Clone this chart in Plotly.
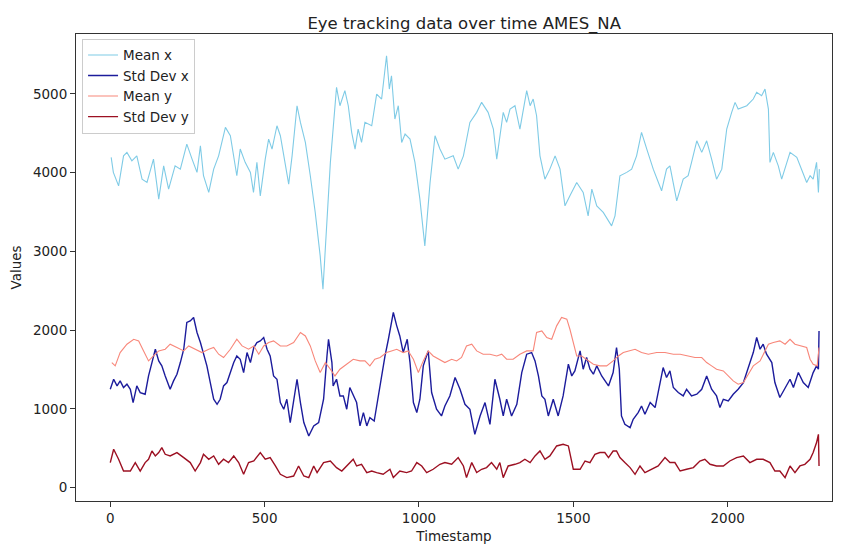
import plotly.graph_objects as go

# ---- data ----
ts_mean_x = [3, 10, 27, 43, 54, 70, 86, 103, 119, 140, 157, 173, 189, 210, 227, 248, 265, 281, 292, 302,
             319, 335, 351, 373, 389, 410, 421, 437, 454, 464, 475, 486, 502, 513, 524, 540, 551, 562, 578,
             589, 605, 616, 632, 648, 664, 680, 689, 713, 733, 744, 760, 771, 782, 793, 803, 814, 825, 847,
             863, 879, 895, 904, 911, 922, 933, 944, 955, 971, 987, 1003, 1019, 1036, 1052, 1068, 1084, 1111,
             1127, 1144, 1165, 1187, 1203, 1224, 1241, 1252, 1262, 1273, 1284, 1295, 1311, 1327, 1349, 1360,
             1370, 1381, 1392, 1408, 1424, 1441, 1457, 1473, 1489, 1511, 1532, 1548, 1560, 1576, 1597, 1624,
             1635, 1651, 1673, 1689, 1705, 1721, 1738, 1759, 1786, 1802, 1813, 1835, 1856, 1872, 1883, 1900,
             1916, 1932, 1948, 1964, 1981, 1997, 2013, 2024, 2034, 2062, 2083, 2094, 2110, 2121, 2132, 2137,
             2148, 2164, 2175, 2202, 2224, 2240, 2256, 2267, 2277, 2288, 2294, 2297]
mean_x = [4193, 4003, 3832, 4213, 4257, 4150, 4213, 3917, 3875, 4171, 3663, 4086, 3790, 4086, 4044, 4362,
          4171, 4003, 4341, 3960, 3748, 4044, 4213, 4574, 4468, 3960, 4299, 4130, 4003, 3748, 4130, 3705,
          4171, 4426, 4299, 4595, 4468, 4213, 3854, 4213, 4849, 4637, 4383, 3960, 3494, 2943, 2520, 4130,
          5083, 4849, 5040, 4849, 4511, 4299, 4553, 4383, 4638, 4595, 4997, 4934, 5484, 5061, 5230, 4680,
          4849, 4383, 4489, 4426, 4130, 3663, 3070, 3875, 4468, 4299, 4171, 4213, 4044, 4213, 4638, 4765,
          4892, 4765, 4553, 4171, 4468, 4765, 4638, 4807, 4849, 4553, 5040, 4849, 4934, 4722, 4213, 3917,
          4044, 4213, 4044, 3578, 3705, 3875, 3748, 3451, 3790, 3578, 3494, 3324, 3451, 3960, 4003, 4044,
          4213, 4511, 4299, 4044, 3769, 4044, 4086, 3642, 3917, 3960, 4130, 4404, 4257, 4404, 4171, 3917,
          4044, 4553, 4765, 4892, 4807, 4849, 4934, 5019, 4976, 5061, 4807, 4130, 4257, 4086, 3917, 4257,
          4193, 4044, 3875, 3960, 3917, 4130, 3748, 4044]

ts_std_x = [0, 11, 22, 32, 43, 54, 65, 74, 86, 97, 113, 124, 135, 146, 157, 167, 178, 194, 205, 216, 227,
            238, 248, 259, 270, 281, 292, 302, 313, 324, 335, 346, 356, 367, 378, 389, 400, 410, 421, 432,
            443, 454, 465, 475, 486, 497, 508, 518, 529, 540, 551, 562, 572, 583, 594, 605, 616, 627, 643,
            659, 675, 691, 702, 707, 718, 722, 733, 744, 755, 766, 776, 787, 798, 809, 820, 831, 841, 855,
            868, 879, 890, 901, 912, 917, 928, 938, 949, 962, 971, 982, 993, 1003, 1014, 1030, 1041, 1057,
            1073, 1084, 1100, 1117, 1133, 1149, 1165, 1181, 1198, 1214, 1230, 1246, 1262, 1273, 1284, 1300,
            1317, 1333, 1349, 1365, 1376, 1387, 1398, 1408, 1419, 1435, 1451, 1467, 1484, 1495, 1505, 1522,
            1532, 1543, 1554, 1565, 1576, 1592, 1614, 1629, 1640, 1649, 1656, 1667, 1684, 1694, 1710, 1721,
            1732, 1749, 1765, 1775, 1791, 1802, 1813, 1824, 1840, 1856, 1867, 1883, 1900, 1916, 1932, 1948,
            1964, 1975, 1986, 2002, 2018, 2034, 2051, 2067, 2083, 2094, 2105, 2115, 2126, 2143, 2153, 2169,
            2186, 2202, 2213, 2229, 2245, 2261, 2277, 2288, 2294, 2296]
std_x = [1249, 1376, 1291, 1355, 1271, 1313, 1249, 1080, 1291, 1207, 1186, 1418, 1588, 1757, 1609, 1546,
         1418, 1249, 1355, 1440, 1588, 1757, 2097, 2117, 2160, 1970, 1842, 1715, 1546, 1334, 1122, 1058,
         1122, 1291, 1334, 1461, 1588, 1672, 1630, 1461, 1715, 1588, 1779, 1842, 1863, 1906, 1757, 1672,
         1418, 1376, 1080, 995, 1122, 826, 1122, 1376, 1080, 826, 656, 783, 826, 1122, 1672, 1884, 1588,
         1291, 1376, 1164, 1164, 995, 1271, 1164, 1080, 783, 953, 783, 889, 846, 1164, 1461, 1672, 1884,
         2117, 2224, 2054, 1926, 1715, 1884, 1588, 1080, 953, 1122, 1546, 1736, 1207, 995, 910, 1037, 1164,
         1398, 1249, 1058, 995, 677, 910, 1080, 804, 1376, 1122, 910, 1122, 910, 1058, 1461, 1694, 1715,
         1609, 1418, 1164, 1122, 910, 1122, 910, 1164, 1567, 1418, 1482, 1736, 1503, 1652, 1503, 1440, 1546,
         1418, 1291, 1461, 1779, 1503, 910, 804, 762, 868, 953, 1037, 931, 1080, 1016, 1207, 1525, 1398,
         1482, 1271, 1207, 1164, 1249, 1164, 1186, 1249, 1418, 1249, 1164, 1016, 1122, 1101, 1186, 1249,
         1334, 1525, 1715, 1906, 1757, 1821, 1694, 1588, 1334, 1144, 1271, 1376, 1271, 1461, 1334, 1271,
         1461, 1546, 1503, 1990]

ts_mean_y = [5, 16, 32, 54, 76, 92, 108, 124, 140, 157, 178, 194, 216, 238, 254, 275, 297, 319, 335, 351,
             367, 389, 410, 427, 448, 465, 481, 497, 513, 529, 551, 572, 594, 616, 632, 648, 664, 680, 697,
             713, 728, 744, 766, 787, 809, 825, 841, 857, 874, 895, 911, 928, 949, 965, 982, 998, 1014, 1030,
             1046, 1063, 1084, 1106, 1122, 1138, 1154, 1171, 1187, 1208, 1230, 1252, 1268, 1284, 1305, 1327,
             1349, 1370, 1381, 1398, 1414, 1430, 1446, 1462, 1479, 1489, 1500, 1511, 1527, 1543, 1565, 1586,
             1608, 1629, 1646, 1662, 1684, 1700, 1721, 1743, 1770, 1797, 1824, 1846, 1872, 1894, 1916, 1932,
             1948, 1964, 1986, 2002, 2018, 2034, 2051, 2067, 2083, 2105, 2121, 2132, 2148, 2169, 2186, 2202,
             2218, 2240, 2256, 2267, 2277, 2290, 2296]
mean_y = [1588, 1546, 1715, 1821, 1884, 1863, 1736, 1609, 1672, 1736, 1757, 1821, 1779, 1736, 1799, 1757,
          1715, 1757, 1779, 1694, 1652, 1757, 1884, 1799, 1757, 1799, 1694, 1799, 1842, 1863, 1799, 1799,
          1842, 1970, 1926, 1799, 1609, 1461, 1588, 1503, 1418, 1503, 1567, 1630, 1609, 1609, 1546, 1630,
          1652, 1715, 1736, 1757, 1715, 1736, 1630, 1461, 1609, 1736, 1672, 1630, 1588, 1630, 1609, 1652,
          1799, 1821, 1736, 1694, 1694, 1672, 1694, 1630, 1630, 1694, 1736, 1736, 1970, 1990, 1906, 1884,
          2054, 2160, 2139, 2011, 1842, 1672, 1672, 1630, 1567, 1546, 1546, 1609, 1672, 1715, 1736, 1757,
          1715, 1694, 1715, 1715, 1694, 1694, 1672, 1652, 1652, 1588, 1546, 1503, 1482, 1418, 1355, 1313,
          1334, 1440, 1546, 1609, 1736, 1821, 1842, 1863, 1821, 1884, 1821, 1799, 1779, 1630, 1567, 1546,
          1779]

ts_std_y = [0, 11, 27, 43, 65, 81, 97, 113, 124, 135, 146, 157, 167, 178, 194, 216, 238, 259, 275, 292,
            302, 319, 335, 351, 367, 383, 400, 416, 432, 448, 465, 486, 502, 518, 535, 551, 572, 594, 610,
            627, 643, 659, 670, 691, 713, 733, 750, 771, 787, 798, 814, 831, 847, 863, 884, 906, 917, 938,
            960, 976, 993, 1009, 1025, 1046, 1068, 1084, 1106, 1127, 1144, 1154, 1171, 1187, 1203, 1219,
            1235, 1252, 1262, 1273, 1289, 1311, 1327, 1343, 1360, 1376, 1392, 1408, 1424, 1446, 1467, 1484,
            1500, 1522, 1538, 1554, 1570, 1586, 1602, 1614, 1629, 1640, 1651, 1667, 1684, 1700, 1716, 1732,
            1754, 1775, 1797, 1813, 1829, 1846, 1867, 1889, 1910, 1926, 1943, 1964, 1986, 2007, 2029, 2051,
            2072, 2094, 2115, 2137, 2153, 2169, 2186, 2202, 2218, 2234, 2250, 2267, 2277, 2288, 2294, 2296]
std_y = [318, 487, 360, 211, 211, 318, 211, 318, 360, 465, 402, 445, 508, 423, 402, 445, 381, 318, 211,
         318, 423, 360, 402, 296, 360, 318, 402, 318, 169, 318, 338, 445, 360, 381, 275, 169, 127, 147, 275,
         147, 127, 275, 191, 318, 338, 254, 211, 296, 360, 275, 296, 191, 211, 191, 169, 233, 127, 211, 191,
         211, 318, 275, 191, 233, 296, 318, 296, 381, 275, 127, 318, 191, 233, 254, 318, 233, 318, 127, 275,
         296, 318, 360, 318, 402, 465, 360, 402, 529, 550, 529, 233, 233, 338, 318, 423, 445, 445, 381, 465,
         465, 381, 318, 254, 169, 275, 191, 233, 275, 381, 318, 318, 211, 233, 254, 338, 360, 296, 275, 275,
         338, 381, 402, 318, 360, 360, 318, 211, 211, 127, 275, 191, 275, 296, 360, 445, 572, 677, 275]

x_ticks = [0, 500, 1000, 1500, 2000]
y_ticks = [0, 1000, 2000, 3000, 4000, 5000]

series = [
    ("Mean x", ts_mean_x, mean_x, "#7fcbe6", 1.1),
    ("Std Dev x", ts_std_x, std_x, "#1c1c9c", 1.4),
    ("Mean y", ts_mean_y, mean_y, "#f8877a", 1.1),
    ("Std Dev y", ts_std_y, std_y, "#9c1022", 1.4),
]

fig = go.Figure()
for name, xs, ys, color, w in series:
    fig.add_trace(go.Scatter(x=xs, y=ys, mode="lines", name=name,
                             line=dict(color=color, width=w)))

font_family = "DejaVu Sans"
axis_common = dict(showgrid=False, zeroline=False, showline=True, mirror=True,
                   linecolor="#333333", linewidth=1, ticks="outside", ticklen=5,
                   tickcolor="#333333", automargin=False,
                   tickfont=dict(family=font_family, size=13.5, color="#222222"))

fig.update_layout(
    width=844, height=545,
    margin=dict(l=76, r=12, t=34, b=44),
    paper_bgcolor="white", plot_bgcolor="white",
    title=dict(text="Eye tracking data over time AMES_NA", x=0.55, xanchor="center",
               xref="container", y=0.958, yanchor="middle",
               font=dict(family=font_family, size=16.5, color="#222222")),
    xaxis=dict(range=[-111, 2338], tickvals=x_ticks, ticktext=[str(v) for v in x_ticks],
               title=dict(text="Timestamp", standoff=6,
                          font=dict(family=font_family, size=13.5, color="#222222")),
               **axis_common),
    yaxis=dict(range=[-170, 5760], tickvals=y_ticks, ticktext=[str(v) for v in y_ticks],
               title=dict(text="Values", standoff=8,
                          font=dict(family=font_family, size=13.5, color="#222222")),
               **axis_common),
    legend=dict(x=0.008, y=0.99, xanchor="left", yanchor="top",
                bgcolor="rgba(255,255,255,0.85)", bordercolor="#cccccc", borderwidth=1,
                font=dict(family=font_family, size=13.5, color="#222222"),
                tracegroupgap=0, itemwidth=30),
    showlegend=True,
)

fig.write_html("out.html")
